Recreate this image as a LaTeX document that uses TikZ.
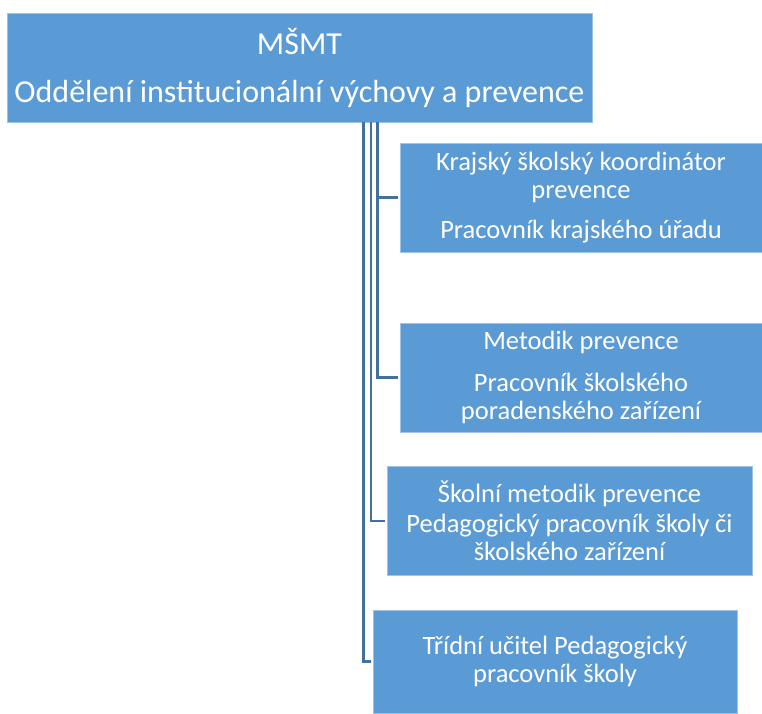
\documentclass[tikz,border=0pt]{standalone}
\usepackage{fontspec}
\setmainfont{Carlito}
\definecolor{boxblue}{HTML}{5B9BD5}
\definecolor{lineblue}{HTML}{41719C}
\definecolor{edgeblue}{HTML}{9DC3E6}
\begin{document}
\begin{tikzpicture}[x=1pt,y=1pt,
  box/.style={fill=boxblue,draw=edgeblue,line width=0.6pt,inner sep=0pt,
    text=white,align=center,font=\fontsize{26.5}{28.5}\selectfont},
  conn/.style={draw=lineblue,line width=2.6pt,shorten >=2pt}]
\useasboundingbox (0,0) rectangle (762,713);
\node[box,minimum width=585,minimum height=109,font=\fontsize{32}{35}\selectfont] (top) at (299.5,645.5)
  {MŠMT\\[13pt]Oddělení institucionální výchovy a prevence};
\node[box,minimum width=362,minimum height=109] (b1) at (581,515.5)
  {Krajský školský koordinátor\\prevence\\[11pt]Pracovník krajského úřadu};
\node[box,minimum width=362,minimum height=109] (b2) at (581,335.5)
  {Metodik prevence\\[13pt]Pracovník školského\\poradenského zařízení};
\node[box,minimum width=365,minimum height=109] (b3) at (569.5,192)
  {Školní metodik prevence\\[1pt]Pedagogický pracovník školy či\\školského zařízení};
\node[box,minimum width=364,minimum height=103] (b4) at (555,51.5)
  {Třídní učitel Pedagogický\\pracovník školy};
\coordinate (c1) at (363.5,591);
\coordinate (c2) at (371,591);
\coordinate (c3) at (377.5,591);
\draw[conn] (c3) |- (b1.west);
\draw[conn] (c3) |- (b2.west);
\draw[conn] (c2) |- (b3.west);
\draw[conn] (c1) |- (b4.west);
\end{tikzpicture}
\end{document}
